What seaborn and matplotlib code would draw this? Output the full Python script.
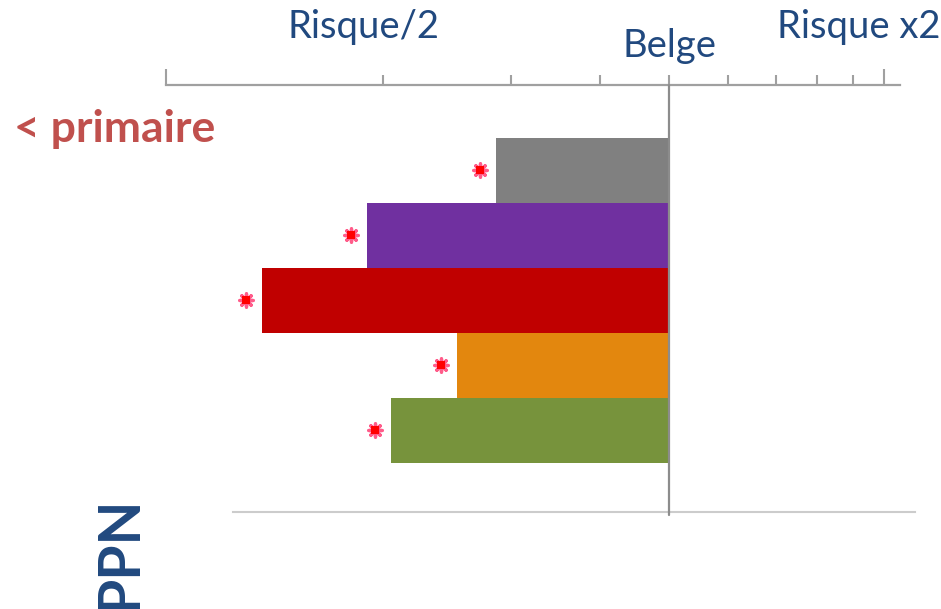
import numpy as np
import pandas as pd
import matplotlib.pyplot as plt
import matplotlib.transforms as mtransforms
import seaborn as sns

# relative risk compared with Belgian mothers (Belge = 1), read on a log axis
groups = ["Groupe 1", "Groupe 2", "Groupe 3", "Groupe 4", "Groupe 5"]
risk = [0.52, 0.32, 0.215, 0.45, 0.35]
bar_colors = ["#808080", "#7030A0", "#C00000", "#E3870E", "#77933C"]
significant = [True, True, True, True, True]

tick_values = [0.15, 0.34, 0.55, 0.77, 1.0, 1.25, 1.5, 1.75, 2.0, 2.25]
axis_labels = ["Risque/2", "Belge", "Risque x2"]
axis_label_risk = [0.316, 1.0, 2.05]

sns.set_style("white")
plt.rcParams["font.family"] = ["Lato", "DejaVu Sans"]

W, H = 941, 609
fig = plt.figure(figsize=(W / 100, H / 100), dpi=100)
# axes box: top spine is the risk scale, bottom spine the baseline
ax = fig.add_axes([0, 97 / H, 1, 427 / H])

df = pd.DataFrame({"group": groups, "logrisk": np.log(risk)})
sns.barplot(data=df, x="logrisk", y="group", hue="group", palette=bar_colors,
            orient="h", width=1.0, legend=False, ax=ax, saturation=1,
            edgecolor="none")

# pixel-matched limits (265 px per ln unit, Belge at x=669)
ax.set_xlim(-669 / 265, 272 / 265)
ax.set_ylim(5.254, -1.315)

# significance stars
sig_x = [np.log(r) - 0.06 for r, s in zip(risk, significant) if s]
sig_y = [i for i, s in enumerate(significant) if s]
sns.scatterplot(x=sig_x, y=sig_y, marker=(8, 2, 0), s=90, color="#ff5c8a",
                linewidth=2.4, edgecolor="#ff5c8a", ax=ax, zorder=5)
sns.scatterplot(x=sig_x, y=sig_y, marker="s", s=30, color="#ff0000",
                linewidth=0, ax=ax, zorder=6)

# Belge reference line
ax.axvline(0, ymin=-3 / 427, ymax=1, color="#8c8c8c", lw=1.6, clip_on=False,
           zorder=4)

# spines
for side in ["left", "right"]:
    ax.spines[side].set_visible(False)
ax.spines["top"].set_color("#a0a0a0")
ax.spines["top"].set_linewidth(1.6)
ax.spines["top"].set_bounds(np.log(tick_values[0]), np.log(2.39))
ax.spines["bottom"].set_color("#cccccc")
ax.spines["bottom"].set_linewidth(1.5)
ax.spines["bottom"].set_bounds(np.log(0.193), np.log(2.53))

ax.xaxis.tick_top()
ax.set_xticks(np.log([tick_values[0], tick_values[-1]]))
ax.set_xticks(np.log(tick_values[1:-1]), minor=True)
ax.tick_params(axis="x", which="major", direction="out", length=11.5,
               width=1.5, color="#a0a0a0", labeltop=False, labelbottom=False)
ax.tick_params(axis="x", which="minor", direction="out", length=7,
               width=1.5, color="#a0a0a0", labeltop=False, labelbottom=False)
ax.set_yticks([])
ax.set_xlabel("")
ax.set_ylabel("")

label_blue = "#21497F"
trans = mtransforms.blended_transform_factory(ax.transData, fig.transFigure)
label_y = [1 - 27 / H, 1 - 46 / H, 1 - 27 / H]
for txt, r, yy in zip(axis_labels, axis_label_risk, label_y):
    ax.text(np.log(r), yy, txt, transform=trans, ha="center", va="center",
            fontsize=27.5, color=label_blue, clip_on=False)

fig.text(14 / W, 1 - 129 / H, "< primaire", ha="left", va="center",
         fontsize=32, fontweight="bold", color="#C0504D")
fig.text(120 / W, 1 - 553 / H, "PPN", ha="center", va="center", rotation=90,
         fontsize=41, fontweight="bold", color=label_blue)

fig.savefig("out.png", dpi=100)
